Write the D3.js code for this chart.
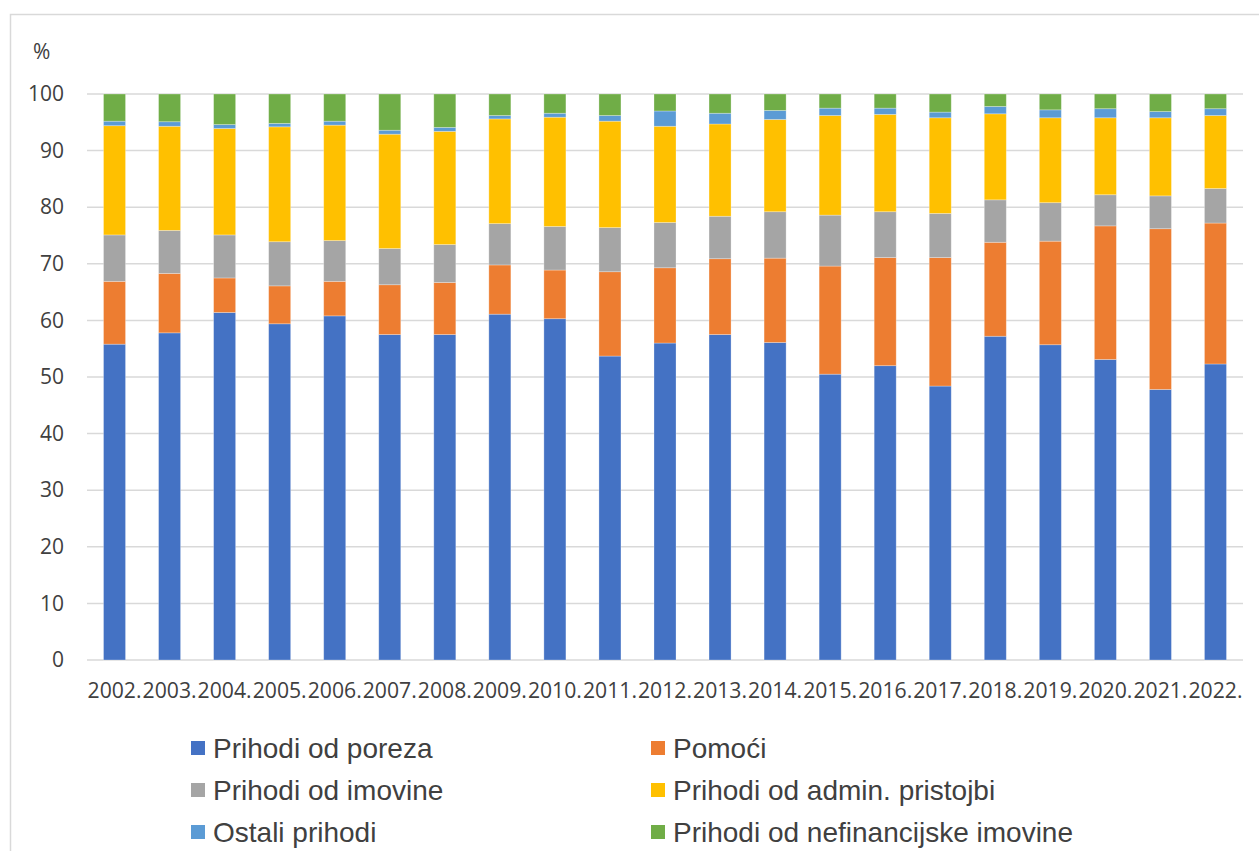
<!DOCTYPE html>
<html>
<head>
<meta charset="utf-8">
<script src="https://cdn.jsdelivr.net/npm/d3@7"></script>
<style>
  html, body { margin: 0; padding: 0; background: #fff; }
  svg { display: block; }
</style>
</head>
<body>
<svg id="chart" width="1259" height="851"></svg>
<script>
// Years on the category axis
const years = ["2002.", "2003.", "2004.", "2005.", "2006.", "2007.", "2008.", "2009.", "2010.", "2011.",
  "2012.", "2013.", "2014.", "2015.", "2016.", "2017.", "2018.", "2019.", "2020.", "2021.", "2022."];

// Revenue structure, share of total (%)
const prihodiOdPoreza = [55.8, 57.8, 61.4, 59.4, 60.8, 57.5, 57.5, 61.1, 60.3, 53.7, 56.0, 57.5, 56.1, 50.5, 52.0, 48.4, 57.2, 55.7, 53.1, 47.8, 52.3];
const pomoci = [11.1, 10.5, 6.1, 6.7, 6.1, 8.8, 9.2, 8.7, 8.6, 14.9, 13.3, 13.4, 14.9, 19.1, 19.1, 22.7, 16.6, 18.3, 23.6, 28.4, 24.9];
const prihodiOdImovine = [8.2, 7.6, 7.6, 7.8, 7.2, 6.4, 6.7, 7.3, 7.7, 7.8, 8.0, 7.5, 8.2, 9.0, 8.1, 7.8, 7.5, 6.8, 5.5, 5.8, 6.1];
const prihodiOdAdminPristojbi = [19.3, 18.4, 18.8, 20.3, 20.4, 20.2, 20.0, 18.5, 19.3, 18.8, 17.0, 16.3, 16.3, 17.6, 17.2, 16.9, 15.2, 15.0, 13.6, 13.8, 12.9];
const ostaliPrihodi = [0.8, 0.8, 0.7, 0.6, 0.7, 0.7, 0.7, 0.6, 0.7, 1.0, 2.7, 1.9, 1.6, 1.3, 1.1, 1.0, 1.3, 1.4, 1.6, 1.1, 1.2];
const prihodiOdNefinImovine = [4.8, 4.9, 5.4, 5.2, 4.8, 6.4, 5.9, 3.8, 3.4, 3.8, 3.0, 3.4, 2.9, 2.5, 2.5, 3.2, 2.2, 2.8, 2.6, 3.1, 2.6];

// Series names in stacking order (bottom to top)
const seriesNames = ["Prihodi od poreza", "Pomoći", "Prihodi od imovine",
  "Prihodi od admin. pristojbi", "Ostali prihodi", "Prihodi od nefinancijske imovine"];
const seriesValues = [prihodiOdPoreza, pomoci, prihodiOdImovine, prihodiOdAdminPristojbi, ostaliPrihodi, prihodiOdNefinImovine];
const seriesColors = ["#4472c4", "#ed7d31", "#a5a5a5", "#ffc000", "#5b9bd5", "#70ad47"];

const yTicks = [0, 10, 20, 30, 40, 50, 60, 70, 80, 90, 100];

// Table built for d3.stack
const rows = years.map((y, i) => {
  const r = { year: y };
  seriesNames.forEach((s, k) => { r[s] = seriesValues[k][i]; });
  return r;
});

const svg = d3.select("#chart");
const textColor = "#404040";

// Chart area frame
svg.append("rect")
  .attr("x", 10.5).attr("y", 14.5)
  .attr("width", 1300).attr("height", 900)
  .attr("fill", "#fff")
  .attr("stroke", "#d9d9d9").attr("stroke-width", 1.5);

const plot = { left: 87, right: 1243, top: 94, bottom: 660 };

const x = d3.scaleBand()
  .domain(years)
  .range([plot.left, plot.right])
  .paddingInner(0.6)
  .paddingOuter(0.3);

const y = d3.scaleLinear()
  .domain([0, 100])
  .range([plot.bottom, plot.top]);

// Horizontal gridlines
svg.append("g")
  .selectAll("line")
  .data(yTicks)
  .join("line")
  .attr("x1", plot.left).attr("x2", plot.right)
  .attr("y1", d => y(d)).attr("y2", d => y(d))
  .attr("stroke", "#d9d9d9").attr("stroke-width", 1.5);

// Y axis labels
const yAxis = d3.axisLeft(y).tickValues(yTicks).tickSize(0).tickPadding(0);
svg.append("g")
  .attr("transform", `translate(64,0)`)
  .call(yAxis)
  .call(g => g.select(".domain").remove())
  .call(g => g.selectAll("text")
    .attr("fill", textColor)
    .style("font-family", "'Open Sans', sans-serif")
    .style("font-size", "21px"));

svg.append("text")
  .attr("x", 33).attr("y", 59)
  .attr("fill", textColor)
  .style("font-family", "'Open Sans', sans-serif")
  .style("font-size", "21px")
  .text("%");

// Stacked bars
const stack = d3.stack().keys(seriesNames);
const layers = stack(rows);

svg.append("g")
  .selectAll("g")
  .data(layers)
  .join("g")
  .attr("fill", (d, i) => seriesColors[i])
  .selectAll("rect")
  .data(d => d)
  .join("rect")
  .attr("x", d => x(d.data.year))
  .attr("width", x.bandwidth())
  .attr("y", d => y(d[1]))
  .attr("height", d => y(d[0]) - y(d[1]))
  .attr("stroke", "rgba(255,255,255,0.35)")
  .attr("stroke-width", 0.8);

// X axis labels
const xAxis = d3.axisBottom(x).tickSize(0).tickPadding(0);
svg.append("g")
  .attr("transform", `translate(0,${plot.bottom})`)
  .call(xAxis)
  .call(g => g.select(".domain").remove())
  .call(g => g.selectAll("text")
    .attr("y", 38)
    .attr("dy", 0)
    .attr("fill", textColor)
    .attr("textLength", 54)
    .attr("lengthAdjust", "spacingAndGlyphs")
    .style("font-family", "'Open Sans', sans-serif")
    .style("font-size", "21px"));

// Legend
const legendX = [191, 651];
const legendY = [748, 790, 832];
const legend = svg.append("g")
  .selectAll("g")
  .data(seriesNames)
  .join("g")
  .attr("transform", (d, i) => `translate(${legendX[i % 2]},${legendY[Math.floor(i / 2)]})`);

legend.append("rect")
  .attr("x", 0).attr("y", -7)
  .attr("width", 14).attr("height", 14)
  .attr("fill", (d, i) => seriesColors[i]);

legend.append("text")
  .attr("x", 22).attr("y", 10)
  .attr("fill", textColor)
  .style("font-family", "'Liberation Sans', Arial, sans-serif")
  .style("font-size", "28px")
  .text(d => d);
</script>
</body>
</html>
